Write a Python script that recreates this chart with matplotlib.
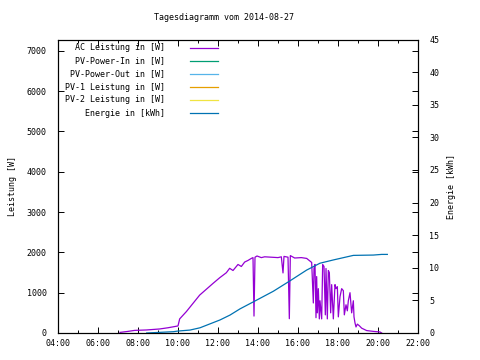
import matplotlib
matplotlib.use("Agg")
import matplotlib.pyplot as plt
from matplotlib.ticker import MultipleLocator

plt.rcParams['font.family'] = ['DejaVu Sans Mono']
plt.rcParams['font.size'] = 6

# AC Leistung [W] (Uhrzeit, Wert)
ac_time = ["07:06", "07:30", "07:50", "08:25", "09:05", "09:30", "10:00", "10:05",
           "10:25", "10:45", "11:05", "11:25", "11:45", "12:05", "12:25", "12:35",
           "12:45", "13:00", "13:10", "13:20", "13:30", "13:40", "13:45", "13:48",
           "13:51", "13:57", "14:10", "14:20", "14:40", "15:00", "15:10", "15:15",
           "15:18", "15:30", "15:34", "15:37", "15:50", "16:10", "16:26", "16:41",
           "16:46", "16:48", "16:51", "16:54", "16:56", "16:58", "17:01", "17:04",
           "17:06", "17:11", "17:14", "17:18", "17:22", "17:24", "17:28", "17:31",
           "17:34", "17:38", "17:41", "17:46", "17:51", "17:54", "17:58", "18:01",
           "18:06", "18:11", "18:16", "18:19", "18:24", "18:28", "18:31", "18:36",
           "18:41", "18:46", "18:48", "18:51", "18:54", "18:58", "19:04", "19:11",
           "19:26", "19:46", "20:06", "20:11"]
ac_watt = [15, 40, 65, 75, 100, 130, 175, 350,
           530, 735, 940, 1085, 1230, 1370, 1495, 1605,
           1550, 1700, 1650, 1760, 1800, 1850, 1870, 420,
           1880, 1910, 1870, 1890, 1880, 1870, 1890, 1490,
           1900, 1880, 355, 1920, 1860, 1870, 1850, 1750,
           745, 1600, 1700, 380, 1400, 500, 1100, 350,
           800, 350, 1700, 1650, 450, 1600, 350, 1550,
           1500, 500, 1200, 350, 1200, 1100, 1150, 400,
           900, 1100, 1050, 450, 700, 550, 800, 1000,
           500, 800, 400, 250, 150, 220, 180, 120,
           60, 40, 25, 0]

# Energie [kWh]
en_time = ["08:26", "09:46", "10:00", "10:36", "11:06", "11:36", "12:06", "12:36",
           "13:06", "13:47", "14:46", "15:36", "16:26", "17:06", "17:46", "18:46",
           "19:46", "20:11", "20:28"]
en_kwh = [0.0, 0.2, 0.3, 0.45, 0.8, 1.4, 2.0, 2.75,
          3.7, 4.8, 6.4, 8.0, 9.65, 10.7, 11.2, 11.9,
          11.95, 12.05, 12.05]

labels = ["AC Leistung in [W]", "PV-Power-In in [W]", "PV-Power-Out in [W]",
          "PV-1 Leistung in [W]", "PV-2 Leistung in [W]", "Energie in [kWh]"]
colors = ["#9400D3", "#009E73", "#56B4E9", "#E69F00", "#F0E442", "#0072B2"]


def hours(ts):
    return [int(t[:2]) + int(t[3:]) / 60.0 for t in ts]


fig = plt.figure(figsize=(4.8, 3.6), dpi=100)
ax = fig.add_axes([58/480, 27/360, 360/480, 293.5/360])
ax2 = ax.twinx()

ax.plot(hours(ac_time), ac_watt, color=colors[0], lw=0.9)
ax2.plot(hours(en_time), en_kwh, color=colors[5], lw=0.9)

ax.set_xlim(4, 22)
ax.set_ylim(0, 7280)
ax2.set_ylim(0, 45)

ax.xaxis.set_minor_locator(MultipleLocator(1))
ax.set_xticks(range(4, 23, 2))
ax.set_xticklabels(["%02d:00" % h for h in range(4, 23, 2)])
ax.set_yticks(range(0, 7001, 1000))
ax2.set_yticks(range(0, 46, 5))

ax.tick_params(axis='x', which='major', direction='in', length=4, width=0.7,
               top=True, pad=4)
ax.tick_params(axis='x', which='minor', direction='in', length=2.5, width=0.7,
               top=True)
ax.tick_params(axis='y', direction='in', length=4, width=0.7, right=True, pad=8)
ax2.tick_params(axis='y', direction='in', length=4, width=0.7, pad=8)

for a in (ax, ax2):
    for s in a.spines.values():
        s.set_linewidth(0.8)

ax.set_ylabel("Leistung [W]", labelpad=7)
ax2.set_ylabel("Energie [kWh]", labelpad=6)

fig.text(224/480, 1 - 18/360, "Tagesdiagramm vom 2014-08-27",
         ha='center', va='center')

# legend like gnuplot: text right aligned, sample line on the right
rows = [48, 61, 74, 87, 100, 113]
for lab, col, y in zip(labels, colors, rows):
    yf = (333 - y) / 293.5
    ax.text((165 - 58) / 360, yf, lab, transform=ax.transAxes,
            ha='right', va='center')
    ax.plot([(190 - 58) / 360, (218 - 58) / 360], [yf, yf], color=col,
            lw=0.9, transform=ax.transAxes, clip_on=False)

fig.savefig("out.png", dpi=100)
